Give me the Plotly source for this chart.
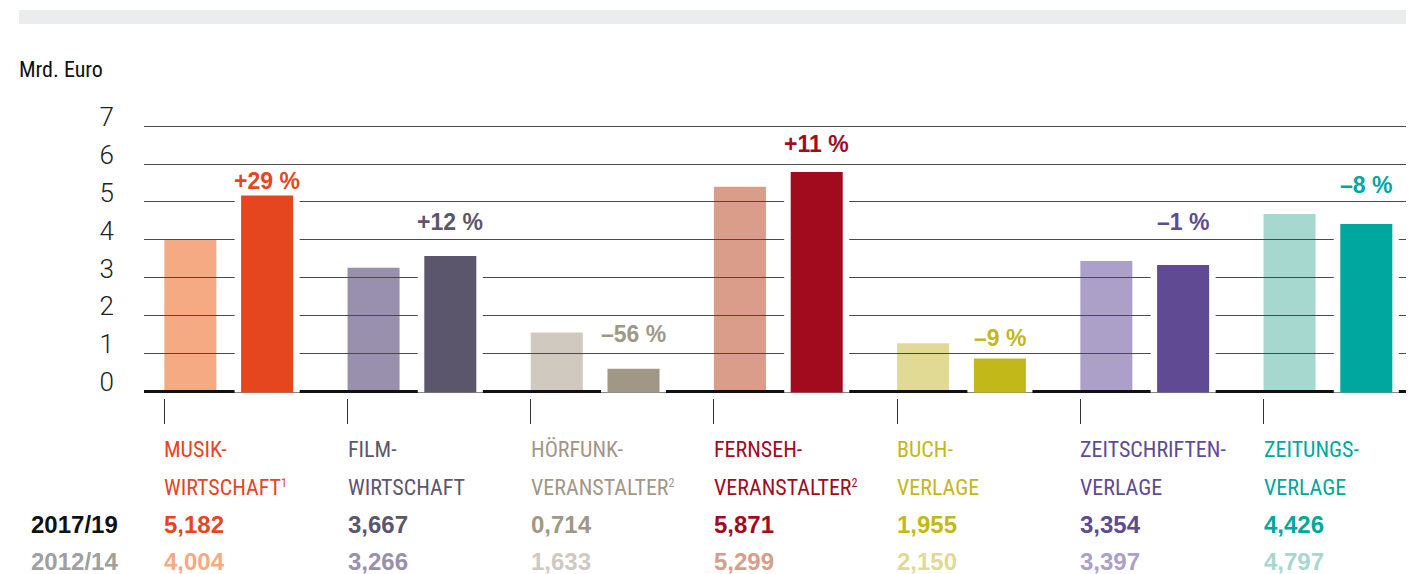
import plotly.graph_objects as go
import numpy as np

# ---------------- data ----------------
categories = ["Musikwirtschaft", "Filmwirtschaft", "Hörfunkveranstalter", "Fernsehveranstalter",
              "Buchverlage", "Zeitschriftenverlage", "Zeitungsverlage"]
label_line1 = ["MUSIK-", "FILM-", "HÖRFUNK-", "FERNSEH-", "BUCH-", "ZEITSCHRIFTEN-", "ZEITUNGS-"]
label_line2 = ["WIRTSCHAFT", "WIRTSCHAFT", "VERANSTALTER", "VERANSTALTER",
               "VERLAGE", "VERLAGE", "VERLAGE"]
label_note = ["1", "", "2", "2", "", "", ""]
# bar heights as drawn in the reference (Mrd. Euro)
bars_2012_14 = [4.00, 3.26, 1.55, 5.40, 1.26, 3.44, 4.68]
bars_2017_19 = [5.17, 3.57, 0.59, 5.79, 0.86, 3.33, 4.42]
# printed values
text_2017_19 = ["5,182", "3,667", "0,714", "5,871", "1,955", "3,354", "4,426"]
text_2012_14 = ["4,004", "3,266", "1,633", "5,299", "2,150", "3,397", "4,797"]
change_text = ["+29 %", "+12 %", "–56 %", "+11 %", "–9 %", "–1 %", "–8 %"]
change_label_y = [5.55, 4.46, 1.51, 6.52, 1.39, 4.46, 5.45]
row_labels = ["2017/19", "2012/14"]
y_ticks = [0, 1, 2, 3, 4, 5, 6, 7]

colors_dark = ["#e5461f", "#5c566c", "#a19785", "#a20b1e", "#c3b81a", "#5f4a93", "#00a79e"]
colors_pale = ["#f5aa84", "#9890ad", "#cfc9bf", "#da9d89", "#e1da94", "#aca0c9", "#a7d8d0"]

# ---------------- styling ----------------
COND = "Liberation Sans Narrow, Roboto Condensed, DejaVu Sans Condensed, Arial Narrow, sans-serif"
BOLD = "Liberation Sans, Arial, sans-serif"
LIGHT = "Roboto, Liberation Sans, sans-serif"

OFF = 8  # default page body margin
W, H = 1414 - OFF, 574 - OFF
ML, MR, MT, MB = 144 - OFF, 0, 119 - OFF, 176
PW, PH = W - ML - MR, H - MT - MB
YR = [-0.185, -0.185 + PH / 37.81]
XR = [-0.111, -0.111 + PW / 183.2]


def py(ref_y):
    return (MT + PH - (ref_y - OFF)) / PH


def px(ref_x):
    return (ref_x - OFF - ML) / PW


BAR_W = 0.284
DARK_OFF = 0.419
PAD = 0.0355
BASE = -0.04

x = categories
fig = go.Figure()

# subplot 1: pale bars (below the grid)
fig.add_trace(go.Bar(x=x, y=bars_2012_14, offset=0, width=BAR_W,
                     marker=dict(color=colors_pale, line=dict(width=0)),
                     xaxis="x", yaxis="y", name="2012/14", hoverinfo="skip"))
# subplot 2: grid + white gap + dark bars
dark = np.array(bars_2017_19)
fig.add_trace(go.Bar(x=x, y=dark - BASE, base=BASE, offset=DARK_OFF - PAD, width=BAR_W + 2 * PAD,
                     marker=dict(color="white", line=dict(width=0)),
                     xaxis="x2", yaxis="y2", showlegend=False, hoverinfo="skip"))
fig.add_trace(go.Bar(x=x, y=dark - BASE, base=BASE, offset=DARK_OFF, width=BAR_W,
                     marker=dict(color=colors_dark, line=dict(width=0)),
                     xaxis="x2", yaxis="y2", name="2017/19", hoverinfo="skip"))

ann = []
for i in range(len(categories)):
    ann.append(dict(x=i + DARK_OFF + BAR_W / 2, y=change_label_y[i], xref="x2", yref="y2",
                    text=change_text[i], showarrow=False, xanchor="center", yanchor="middle",
                    font=dict(family=BOLD, size=23, color=colors_dark[i], weight="bold")))
    line2 = label_line2[i]
    if label_note[i]:
        line2 += '<span style="font-size:12px;baseline-shift:8px">%s</span>' % label_note[i]
    for txt, ypx, col, fam, sz, wt in [
        (label_line1[i], 449, colors_dark[i], COND, 22, "normal"),
        (line2, 487, colors_dark[i], COND, 22, "normal"),
        (text_2017_19[i], 524, colors_dark[i], BOLD, 24, "bold"),
        (text_2012_14[i], 561, colors_pale[i], BOLD, 24, "bold"),
    ]:
        ann.append(dict(x=i, y=py(ypx), xref="x", yref="paper", text=txt,
                        showarrow=False, xanchor="left", yanchor="middle", xshift=-2,
                        font=dict(family=fam, size=sz, color=col, weight=wt)))

for txt, ypx, col in [(row_labels[0], 524, "#111111"), (row_labels[1], 561, "#a0a0a0")]:
    ann.append(dict(x=px(29), y=py(ypx), xref="paper", yref="paper", text=txt,
                    showarrow=False, xanchor="left", yanchor="middle",
                    font=dict(family=BOLD, size=24, color=col, weight="bold")))

ann.append(dict(x=px(17), y=py(69), xref="paper", yref="paper", text="Mrd. Euro",
                showarrow=False, xanchor="left", yanchor="middle",
                font=dict(family=COND, size=22, color="#111111")))

shapes = [dict(type="rect", xref="paper", yref="paper", x0=px(19), x1=1,
               y0=py(24), y1=py(10),
               fillcolor="#ebeced", line=dict(width=0), layer="below")]

fig.update_layout(
    width=W, height=H, margin=dict(l=ML, r=MR, t=MT, b=MB),
    paper_bgcolor="white", plot_bgcolor="rgba(0,0,0,0)",
    barmode="overlay", showlegend=False,
    annotations=ann, shapes=shapes,
    xaxis=dict(domain=[0, 1], anchor="y", type="category", range=XR, showgrid=False,
               showticklabels=False, ticks="outside", ticklen=25, tickwidth=1.2, tickcolor="#333333",
               showline=False, zeroline=False, fixedrange=True),
    yaxis=dict(domain=[0, 1], anchor="x", range=YR, showgrid=False, showticklabels=False,
               zeroline=False, showline=False, ticks=""),
    xaxis2=dict(domain=[0, 1], anchor="y2", type="category", range=XR, showgrid=False,
                showticklabels=False, ticks="", showline=False, zeroline=False),
    yaxis2=dict(domain=[0, 1], anchor="x2", range=YR, tickvals=y_ticks,
                showgrid=True, gridcolor="#4a4a4a", gridwidth=1,
                zeroline=True, zerolinecolor="#111111", zerolinewidth=3,
                showline=False, ticks="", ticklabelstandoff=29, ticklabelshift=-9,
                tickfont=dict(family=LIGHT, size=26, color="#222222", weight=300)),
)

fig.write_html("out.html")
